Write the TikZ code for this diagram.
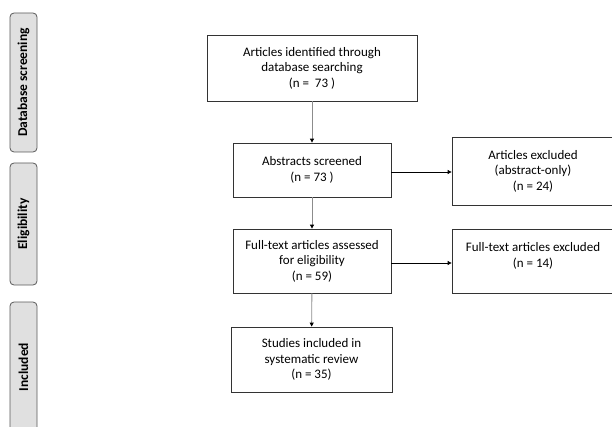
\documentclass[tikz,border=0pt]{standalone}
\usepackage{fontspec}
\setmainfont{Carlito}
\usetikzlibrary{arrows.meta,positioning}

\begin{document}
\begin{tikzpicture}[x=1pt,y=1pt,
  box/.style={draw=black!80,line width=0.8pt,fill=white,align=center,
    inner sep=2pt,font=\fontsize{13}{15.5}\selectfont},
  phase/.style={draw=black!65,line width=0.8pt,fill=black!12,rounded corners=4pt,
    minimum height=27pt,inner sep=0pt,rotate=90,font=\bfseries\fontsize{13.5}{15}\selectfont},
  down/.style={draw=black!45,line width=0.9pt,-{Triangle[black,length=4pt,width=4pt]}},
  side/.style={draw=black,line width=0.8pt,-{Triangle[black,length=4pt,width=4pt]}}]
\useasboundingbox (0,0) rectangle (612,426);

% phases
\node[phase,minimum width=139pt] (ph1) at (23.5,343.5) {Database screening};
\node[phase,minimum width=122pt] (ph2) at (23.5,202) {Eligibility};
\node[phase,minimum width=130pt] (ph3) at (23.5,59) {Included};

% flow
\node[box,minimum width=210pt,minimum height=66pt] (ident) at (312,358)
  {Articles identified through\\database searching\\(n =\ \ 73 )};
\node[box,minimum width=158pt,minimum height=54pt] (screen) at (312,256)
  {Abstracts screened\\(n = 73 )};
\node[box,minimum width=162pt,minimum height=68pt] (exclA) at (533,255)
  {Articles excluded\\(abstract-only)\\(n = 24)};
\node[box,minimum width=158pt,minimum height=64pt] (full) at (312,165)
  {Full-text articles assessed\\for eligibility\\(n = 59)};
\node[box,minimum width=162pt,minimum height=64pt,text depth=12pt] (exclF) at (533,165)
  {Full-text articles excluded\\(n = 14)};
\node[box,minimum width=161pt,minimum height=65pt] (incl) at (311.5,66.5)
  {Studies included in\\systematic review\\(n = 35)};

\draw[down] (ident) -- (screen);
\draw[down] (screen) -- (full);
\draw[down] (full) -- (incl);
\draw[side] (screen.east |- 0,254) -- (exclA.west |- 0,254);
\draw[side] ([yshift=-2pt]full.east) -- ([yshift=-2pt]full.east -| exclF.west);
\end{tikzpicture}
\end{document}
